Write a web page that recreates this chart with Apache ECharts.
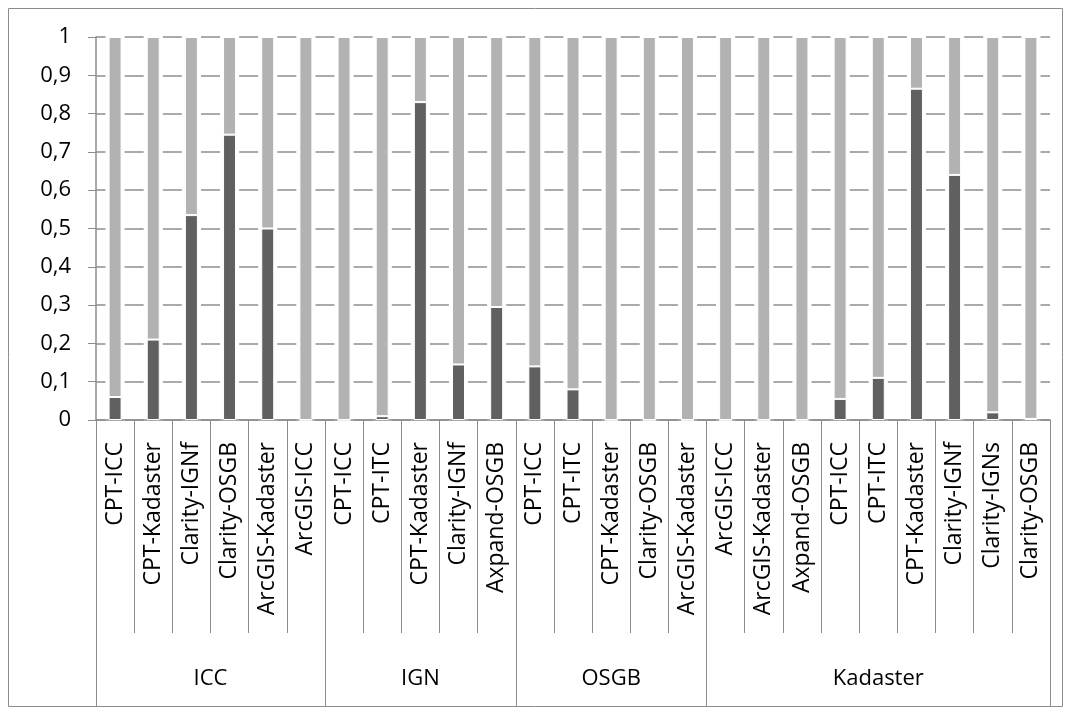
<!DOCTYPE html>
<html>
<head>
<meta charset="utf-8">
<script src="https://cdn.jsdelivr.net/npm/echarts@6/dist/echarts.min.js"></script>
<style>
html,body{margin:0;padding:0;background:#fff;}
#chart{width:1072px;height:715px;}
</style>
</head>
<body>
<div id="chart"></div>
<script>
const categories = [
  'CPT-ICC','CPT-Kadaster','Clarity-IGNf','Clarity-OSGB','ArcGIS-Kadaster','ArcGIS-ICC',
  'CPT-ICC','CPT-ITC','CPT-Kadaster','Clarity-IGNf','Axpand-OSGB',
  'CPT-ICC','CPT-ITC','CPT-Kadaster','Clarity-OSGB','ArcGIS-Kadaster',
  'ArcGIS-ICC','ArcGIS-Kadaster','Axpand-OSGB','CPT-ICC','CPT-ITC','CPT-Kadaster','Clarity-IGNf','Clarity-IGNs','Clarity-OSGB'
];
const groups = ['ICC','IGN','OSGB','Kadaster'];
const groupSizes = [6,5,5,9];
const darkValues = [
  0.06,0.21,0.535,0.745,0.50,0,
  0,0.01,0.83,0.145,0.295,
  0.14,0.08,0,0,0,
  0,0,0,0.055,0.11,0.865,0.64,0.02,0.003
];
const lightValues = [
  0.94,0.79,0.465,0.255,0.50,1,
  1,0.99,0.17,0.855,0.705,
  0.86,0.92,1,1,1,
  1,1,1,0.945,0.89,0.135,0.36,0.98,0.997
];
const yTicks = [0,0.1,0.2,0.3,0.4,0.5,0.6,0.7,0.8,0.9,1];

const n = categories.length;
const bounds = [0];
groupSizes.forEach(s => bounds.push(bounds[bounds.length-1] + s));
const centers = groupSizes.map((s,i) => bounds[i] + s/2);

const FONT = 'Open Sans';
const FS = 22;
const gridLeft = 96, gridRight = 22;
const catW = (1072 - gridLeft - gridRight) / n;
const seg = 19;

const chart = echarts.init(document.getElementById('chart'), null, {renderer:'canvas'});
chart.setOption({
  animation:false,
  backgroundColor:'#fff',
  graphic:[{type:'rect',shape:{x:8.5,y:8.5,width:1054,height:698},style:{fill:'none',stroke:'#8c8c8c',lineWidth:1},silent:true,z:-1}],
  grid:{left:gridLeft,top:37,right:gridRight,bottom:295,containLabel:false},
  xAxis:[
    {
      type:'category', data:categories, position:'bottom',
      axisLine:{show:true,lineStyle:{color:'#8c8c8c',width:1.5}},
      axisTick:{show:true,interval:0,length:213,lineStyle:{color:'#8c8c8c',width:1}},
      axisLabel:{interval:0,rotate:90,margin:22,fontFamily:FONT,fontSize:23,color:'#000'},
      splitLine:{show:false}
    },
    {
      type:'value', min:0, max:n, position:'bottom',
      axisLine:{show:false},
      axisTick:{show:true,customValues:bounds,length:287,lineStyle:{color:'#8c8c8c',width:1}},
      axisLabel:{show:true,customValues:centers,margin:248,fontFamily:FONT,fontSize:FS,color:'#000',
        formatter:function(v){const i=centers.indexOf(v);return i>=0?groups[i]:'';}},
      splitLine:{show:false}
    }
  ],
  yAxis:{
    type:'value', min:0, max:1, interval:0.1,
    axisLine:{show:true,lineStyle:{color:'#8c8c8c',width:1.5}},
    axisTick:{show:true,length:8,lineStyle:{color:'#8c8c8c'}},
    axisLabel:{margin:25,fontFamily:FONT,fontSize:FS,color:'#000',
      formatter:function(v){const t=yTicks.find(x=>Math.abs(x-v)<1e-9);return String(t!==undefined?t:v).replace('.',',');}},
    splitLine:{show:true,lineStyle:{color:'#8f8f8f',width:1.5,type:[seg, catW-seg],dashOffset:seg/2}}
  },
  series:[
    {type:'bar',name:'dark',stack:'s',data:darkValues,barWidth:13,xAxisIndex:0,
      itemStyle:{color:'#606060',borderColor:'#ffffff',borderWidth:1}},
    {type:'bar',name:'light',stack:'s',data:lightValues,barWidth:13,xAxisIndex:0,
      itemStyle:{color:'#b2b2b2',borderColor:'#ffffff',borderWidth:1}}
  ]
});
</script>
</body>
</html>
